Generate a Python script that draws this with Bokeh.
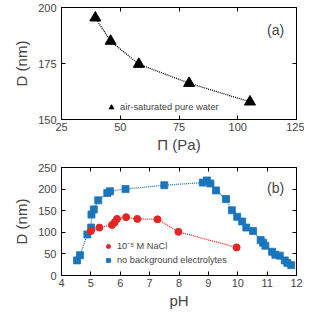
from bokeh.plotting import figure
from bokeh.layouts import column
from bokeh.models import LinearAxis, FixedTicker, Legend, LegendItem, Label, Range1d
from bokeh.embed import file_html
from bokeh.resources import INLINE

# Panel (a)
pi_pa = [39.4, 45.9, 57.9, 79.3, 105.2]
d_a = [195.4, 185.0, 174.7, 166.2, 157.9]
a_xticks = [25, 50, 75, 100, 125]
a_yticks = [150, 175, 200]

# Panel (b)
ph_nacl = [5.00, 5.29, 5.72, 5.81, 5.89, 6.20, 6.58, 7.27, 7.98, 9.96]
d_nacl = [103, 111, 117, 123, 131, 135, 131, 130, 101, 65]

ph_none = [4.53, 4.63, 4.88, 5.01, 5.02, 5.10, 5.25, 5.56, 5.65, 6.18, 7.50,
           8.81, 8.95, 9.07, 9.26, 9.60, 9.80, 9.98, 10.15, 10.29, 10.52,
           10.78, 10.86, 10.94, 11.17, 11.28, 11.43, 11.60, 11.69, 11.82]
d_none = [35, 47, 95, 111, 141, 153, 174, 191, 195, 200, 209,
          215, 220, 213, 197, 177, 151, 136, 125, 111, 103,
          82, 76, 69, 55, 48, 46, 35, 29, 24]
b_xticks = [4, 5, 6, 7, 8, 9, 10, 11, 12]
b_yticks = [0, 50, 100, 150, 200, 250]

FONT = "Liberation Sans"
BLUE = "#1b75bb"
RED = "#e42522"


def style(p, xt, yt, xlabel, ylabel):
    p.xaxis.ticker = FixedTicker(ticks=xt)
    p.yaxis.ticker = FixedTicker(ticks=yt)
    p.xgrid.visible = False
    p.ygrid.visible = False
    p.outline_line_color = "black"
    p.outline_line_width = 1
    p.xaxis.axis_label = xlabel
    p.yaxis.axis_label = ylabel
    for ax in (p.xaxis[0], p.yaxis[0]):
        ax.axis_label_text_font = FONT
        ax.axis_label_text_font_style = "normal"
        ax.axis_label_text_font_size = "15px"
        ax.major_label_text_font = FONT
        ax.major_label_text_font_size = "11px"
        ax.major_tick_in = 4
        ax.major_tick_out = 0
        ax.minor_tick_in = 0
        ax.minor_tick_out = 0
        ax.axis_line_color = "black"
        ax.major_label_standoff = 3
        ax.axis_label_standoff = 2
    p.yaxis[0].major_label_standoff = 5
    p.yaxis[0].axis_label_standoff = 5
    for side, t in (("right", yt), ("above", xt)):
        ax = LinearAxis(ticker=FixedTicker(ticks=t),
                        major_label_overrides={v: "" for v in t})
        ax.major_label_standoff = 0
        ax.major_tick_in = 4
        ax.major_tick_out = 0
        ax.minor_tick_in = 0
        ax.minor_tick_out = 0
        ax.axis_line_color = None
        p.add_layout(ax, side)


p1 = figure(width=304, height=155, output_backend="svg", toolbar_location=None,
            x_range=Range1d(25, 125), y_range=Range1d(150, 200),
            min_border_left=61, min_border_right=8, min_border_top=7,
            min_border_bottom=10)
style(p1, a_xticks, a_yticks, "Π (Pa)", "D (nm)")
p1.line(pi_pa, d_a, line_color="black", line_width=1.3, line_dash="1 1")
ra = p1.scatter(pi_pa, d_a, marker="triangle", size=11, fill_color="black",
                line_color="black")
leg1 = Legend(items=[LegendItem(label="air-saturated pure water", renderers=[ra])],
              location=(44, 6), border_line_color=None, background_fill_alpha=0,
              label_text_font=FONT, label_text_font_size="9.3px",
              glyph_width=12, glyph_height=12, label_height=10, label_standoff=3,
              padding=0, margin=0, spacing=3)
p1.add_layout(leg1)
p1.add_layout(Label(x=116.1, y=190, text="(a)",
                    text_font=FONT, text_font_size="14px", text_align="center",
                    text_baseline="middle"))

p2 = figure(width=304, height=156, output_backend="svg", toolbar_location=None,
            x_range=Range1d(4, 12), y_range=Range1d(0, 250),
            min_border_left=61, min_border_right=8, min_border_top=12,
            min_border_bottom=10)
style(p2, b_xticks, b_yticks, "pH", "D (nm)")
p2.line(ph_none, d_none, line_color=BLUE, line_width=1.3, line_dash="1 1")
p2.line(ph_nacl, d_nacl, line_color=RED, line_width=1.3, line_dash="1 1")
rb = p2.scatter(ph_none, d_none, marker="square", size=7, fill_color=BLUE,
                line_color=BLUE, line_width=0.8)
rr = p2.scatter(ph_nacl, d_nacl, marker="circle", size=7, fill_color=RED,
                line_color=RED)
leg2 = Legend(items=[LegendItem(label="10⁻⁵ M NaCl", renderers=[rr]),
                     LegendItem(label="no background electrolytes", renderers=[rb])],
              location=(42, 10), border_line_color=None, background_fill_alpha=0,
              label_text_font=FONT, label_text_font_size="9.2px",
              glyph_width=10, glyph_height=10, label_height=10, label_standoff=4,
              padding=0, margin=0, spacing=3)
p2.add_layout(leg2)
p2.add_layout(Label(x=11.29, y=203.7, text="(b)",
                    text_font=FONT, text_font_size="14px", text_align="center",
                    text_baseline="middle"))

layout = column(p1, p2)
open("out.html", "w").write(file_html(layout, INLINE))
